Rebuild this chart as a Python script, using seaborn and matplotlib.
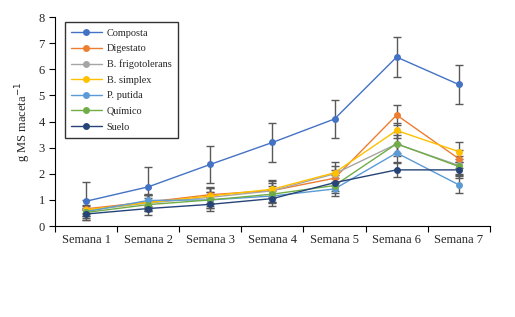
import matplotlib
matplotlib.use("Agg")
import matplotlib.pyplot as plt
import seaborn as sns
import pandas as pd
import numpy as np

weeks = ["Semana 1", "Semana 2", "Semana 3", "Semana 4", "Semana 5", "Semana 6", "Semana 7"]
series = ["Composta", "Digestato", "B. frigotolerans", "B. simplex", "P. putida", "Químico", "Suelo"]
composta = [0.95, 1.50, 2.36, 3.20, 4.10, 6.47, 5.42]
digestato = [0.66, 0.92, 1.20, 1.36, 1.83, 4.25, 2.58]
frigotolerans = [0.60, 0.88, 1.10, 1.35, 2.00, 3.14, 2.32]
simplex = [0.62, 0.90, 1.15, 1.41, 2.04, 3.66, 2.85]
putida = [0.55, 0.98, 1.00, 1.15, 1.42, 2.80, 1.58]
quimico = [0.52, 0.82, 1.00, 1.22, 1.55, 3.15, 2.28]
suelo = [0.46, 0.67, 0.83, 1.05, 1.66, 2.15, 2.15]
err_composta = [0.73, 0.75, 0.70, 0.75, 0.72, 0.76, 0.75]
err_digestato = [0.15, 0.25, 0.30, 0.30, 0.30, 0.40, 0.35]
err_frigotolerans = [0.38, 0.30, 0.35, 0.42, 0.30, 0.45, 0.35]
err_simplex = [0.15, 0.30, 0.30, 0.30, 0.40, 0.30, 0.38]
err_putida = [0.15, 0.25, 0.30, 0.25, 0.27, 0.35, 0.33]
err_quimico = [0.15, 0.25, 0.30, 0.30, 0.30, 0.35, 0.30]
err_suelo = [0.15, 0.25, 0.25, 0.28, 0.30, 0.26, 0.30]
colors = ["#4472C4", "#ED7D31", "#A5A5A5", "#FFC000", "#5B9BD5", "#70AD47", "#264478"]

vals = [composta, digestato, frigotolerans, simplex, putida, quimico, suelo]
errs = [err_composta, err_digestato, err_frigotolerans, err_simplex, err_putida, err_quimico, err_suelo]

rows = []
for s, v in zip(series, vals):
    for i, y in enumerate(v):
        rows.append({"serie": s, "x": i, "y": y})
df = pd.DataFrame(rows)

sns.set_style("white")
plt.rcParams["font.family"] = ["Liberation Serif", "DejaVu Serif"]

fig = plt.figure(figsize=(5.15, 3.17), dpi=100)
ax = fig.add_axes([0.107, 0.287, 0.844, 0.659])

for s, v, e in zip(series, vals, errs):
    ax.errorbar(range(len(v)), v, yerr=e, fmt="none", ecolor="#595959",
                elinewidth=1.0, capsize=3, capthick=1.0, zorder=1)

sns.lineplot(data=df, x="x", y="y", hue="serie", hue_order=series,
             palette=colors, marker="o", markersize=5, markeredgewidth=0,
             linewidth=1.0, ax=ax, zorder=3, legend=True)

ax.set_xlim(-0.5, 6.5)
ax.set_ylim(0, 8)
ax.set_yticks(range(0, 9))
ax.set_xticks(np.arange(-0.5, 7, 1))
ax.set_xticklabels([])
ax.set_xticks(range(7), minor=True)
ax.set_xticklabels(weeks, minor=True, fontsize=9)
ax.tick_params(axis="x", which="major", direction="out", length=4, width=0.8, color="black", bottom=True)
ax.tick_params(axis="x", which="minor", length=0, pad=6)
ax.tick_params(axis="y", direction="out", length=4, width=0.8, color="black", left=True, labelsize=9)
ax.set_xlabel("")
ax.set_ylabel("g MS maceta$^{-1}$", fontsize=9, labelpad=4)
for sp in ["top", "right"]:
    ax.spines[sp].set_visible(False)
for sp in ["left", "bottom"]:
    ax.spines[sp].set_color("black")
    ax.spines[sp].set_linewidth(0.8)

leg = ax.legend(loc="upper left", bbox_to_anchor=(0.01, 1.0), fontsize=7.4,
                frameon=True, fancybox=False, edgecolor="black",
                handlelength=3, labelspacing=0.62, borderpad=0.6, handletextpad=0.5)
leg.get_frame().set_linewidth(1.0)

fig.savefig("out.png", dpi=100)
